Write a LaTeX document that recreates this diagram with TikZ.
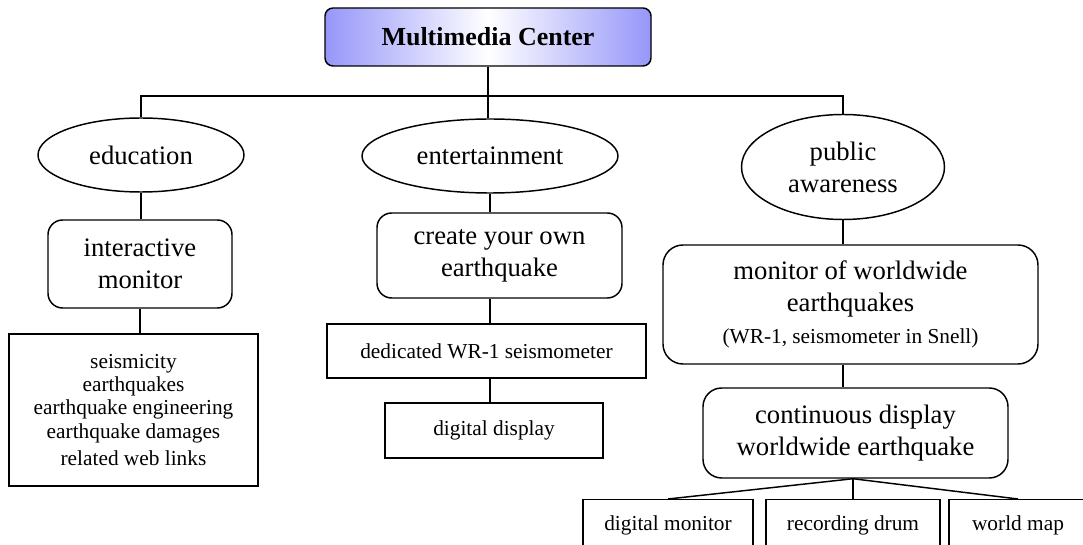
\documentclass[tikz,border=0pt]{standalone}
\usepackage{fontspec}
\setmainfont{Liberation Serif}
\usepackage{tikz}
\usetikzlibrary{
  shapes.geometric % 椭圆节点
}
\definecolor{mmblue}{RGB}{150,150,250}

\tikzset{
  bigtxt/.style={font=\fontsize{20pt}{24pt}\selectfont},
  smalltxt/.style={font=\fontsize{16pt}{17.5pt}\selectfont},
  oval/.style={draw, ellipse, inner sep=0pt, bigtxt, align=center},
  rbox/.style={draw, rounded corners=11pt, inner sep=0pt, bigtxt, align=center},
  sbox/.style={draw, inner sep=0pt, smalltxt, align=center},
  leaf/.style={draw, anchor=north, inner sep=0pt, smalltxt, text height=23pt, text depth=40pt}
}

\begin{document}
\begin{tikzpicture}[x=0.75pt, y=-0.75pt, line width=1.1pt]
  % 画布范围
  \useasboundingbox (0,0) rectangle (1083,545);
  \clip (0,0) rectangle (1083,545);

  % 顶部标题框（渐变填充）
  \node[draw, rounded corners=6pt, minimum width=244.5pt, minimum height=43.5pt,
        left color=mmblue, right color=mmblue, middle color=white,
        font=\fontsize{19.5pt}{24pt}\selectfont\bfseries] (top) at (488,37) {Multimedia Center};

  % 三个分类椭圆
  \node[oval, minimum width=154.5pt, minimum height=55.5pt] (edu) at (141,155) {education};
  \node[oval, minimum width=192pt, minimum height=55.5pt] (ent) at (490,156) {entertainment};
  \node[oval, minimum width=152.25pt, minimum height=78.75pt] (pub) at (843,167) {public\\awareness};

  % 教育分支
  \node[rbox, minimum width=138pt, minimum height=66pt] (inter) at (140,264) {interactive\\monitor};
  \node[sbox, minimum width=186.75pt, minimum height=114pt] (seis) at (133.5,410)
    {seismicity\\earthquakes\\earthquake engineering\\earthquake damages\\[3pt]related web links};

  % 娱乐分支
  \node[rbox, minimum width=183.75pt, minimum height=63.75pt] (create) at (499.5,255.5) {create your own\\earthquake};
  \node[sbox, minimum width=239.25pt, minimum height=40.5pt] (ded) at (486.5,351) {dedicated WR-1 seismometer};
  \node[sbox, minimum width=163.5pt, minimum height=41.25pt] (disp) at (494,430.5) {digital display};

  % 公众意识分支
  \node[rbox, rounded corners=15pt, minimum width=281.25pt, minimum height=89.25pt] (mon) at (850.5,304.5)
    {monitor of worldwide\\earthquakes\\{\fontsize{16pt}{20pt}\selectfont (WR-1, seismometer in Snell)}};
  \node[rbox, rounded corners=14pt, minimum width=228.75pt, minimum height=67.5pt] (cont) at (855.5,433)
    {continuous display\\worldwide earthquake};

  % 底部输出框（下沿超出画布）
  \node[leaf, minimum width=127.5pt] (dm) at (668,499) {digital monitor};
  \node[leaf, minimum width=130.5pt] (rd) at (853,499) {recording drum};
  \node[leaf, minimum width=103.5pt] (wm) at (1018,499) {world map};

  % 连接线
  \coordinate (bar) at (488,96);
  \coordinate (fan) at (cont.south -| rd.north);
  \draw (edu.north) |- (bar) -| (pub.north);
  \draw (top.south) -- (top.south |- ent.north);
  \draw (edu.south) -- (edu.south |- inter.north);
  \draw (inter.south) -- (inter.south |- seis.north);
  \draw (ent.south) -- (ent.south |- create.north);
  \draw (ent.south |- create.south) -- (ent.south |- ded.north);
  \draw (ent.south |- ded.south) -- (ent.south |- disp.north);
  \draw (pub.south) -- (pub.south |- mon.north);
  \draw (pub.south |- mon.south) -- (pub.south |- cont.north);
  \draw (fan) -- (dm.north);
  \draw (fan) -- (rd.north);
  \draw (fan) -- (wm.north);
\end{tikzpicture}
\end{document}
